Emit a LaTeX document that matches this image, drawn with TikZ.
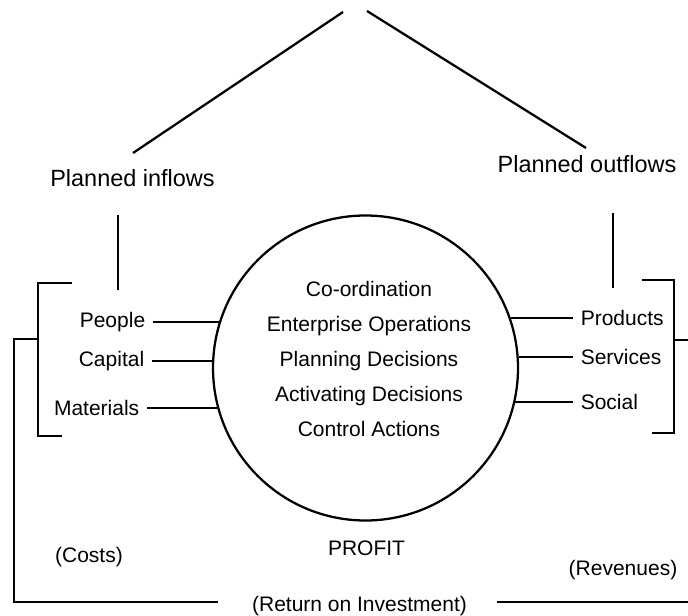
\documentclass[tikz,border=0pt]{standalone}
\usepackage{fontspec}
\setmainfont{Liberation Sans}

\begin{document}
\begin{tikzpicture}[
    x=0.75pt, y=-0.75pt,
    line width=1.7pt,
    flowhead/.style={font=\fontsize{17.6}{21}\selectfont, anchor=base},
    item/.style={font=\fontsize{15.75}{19}\selectfont, inner sep=5pt},
    note/.style={font=\fontsize{15.75}{19}\selectfont, anchor=base}
]

    \useasboundingbox (0,0) rectangle (688,616);

    % Planned flows
    \node[flowhead] (inflows) at (132.5,187) {Planned inflows};
    \node[flowhead] (outflows) at (587,173) {Planned outflows};

    \coordinate (topL) at (343,12);
    \coordinate (topR) at (367,11);
    \coordinate (inTop) at (133,153);
    \coordinate (outTop) at (586,148);

    \draw (topL) -- (inTop);
    \draw (topR) -- (outTop);

    \draw (118,215) -- (118,290);
    \draw (613,213) -- (613,288);

    % Enterprise circle
    \node[draw, circle, minimum size=228.75pt, inner sep=0pt] (core) at (365.5,368) {};
    \node[align=center, font=\fontsize{15.75}{26.4}\selectfont] (tasks) at (369,359)
        {Co-ordination\\Enterprise Operations\\Planning Decisions\\Activating Decisions\\Control Actions};

    % Inflows: left side
    \node[item, anchor=east] (people) at (153,322) {People};
    \node[item, anchor=east] (capital) at (152,361) {Capital};
    \node[item, anchor=east] (materials) at (147,408) {Materials};

    \draw (people.east) -- (people.east -| core.162);
    \draw (capital.east) -- (capital.east -| core.177);
    \draw (materials.east) -- (materials.east -| core.195);

    % Outflows: right side
    \node[item, anchor=west] (products) at (573,318) {Products};
    \node[item, anchor=west] (services) at (573,357) {Services};
    \node[item, anchor=west] (social) at (573,402) {Social};

    \draw (products.west) -- (products.west -| core.19);
    \draw (services.west) -- (services.west -| core.4);
    \draw (social.west) -- (social.west -| core.347);

    % Brackets
    \draw (72,283) -- (38,283) -- (38,436) -- (62,436);
    \draw (642,280) -- (674,280) -- (674,433) -- (652,433);

    % Return loop
    \node[note] (costs) at (89,562) {(Costs)};
    \node[note] (profit) at (366.5,555) {PROFIT};
    \node[note] (revenues) at (623,575) {(Revenues)};
    \node[note] (roi) at (359.5,611) {(Return on Investment)};

    \coordinate (lbMid) at (38,339);
    \coordinate (rbMid) at (674,340);

    \draw (lbMid) -| (14,602) -- (218,602);
    \draw (497,602) -- (688,602);
    \draw (rbMid) -- (688,340);

\end{tikzpicture}
\end{document}
